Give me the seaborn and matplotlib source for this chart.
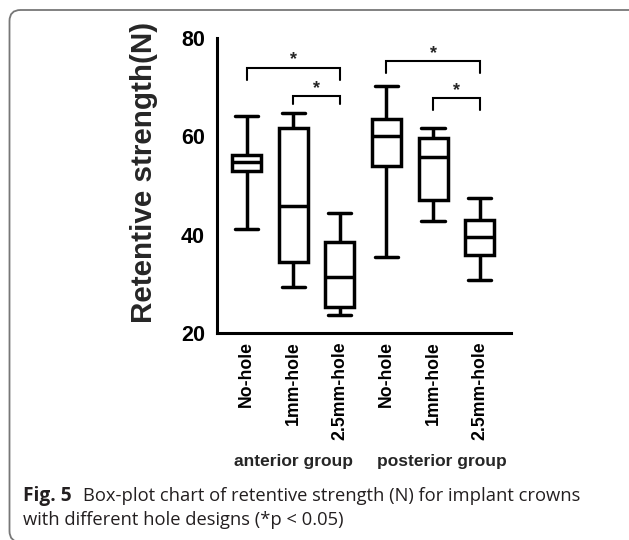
import numpy as np
import pandas as pd
import matplotlib
matplotlib.use("Agg")
import matplotlib.pyplot as plt
import seaborn as sns
from matplotlib.patches import FancyBboxPatch
from matplotlib.transforms import blended_transform_factory

# ---- data ----
groups = ["anterior group"] * 3 + ["posterior group"] * 3
designs = ["No-hole", "1mm-hole", "2.5mm-hole", "No-hole", "1mm-hole", "2.5mm-hole"]
mins = [41.2, 29.3, 23.7, 35.4, 42.7, 30.8]
q1s = [53.0, 34.4, 25.2, 53.9, 47.0, 35.9]
medians = [54.8, 45.8, 31.3, 60.0, 55.8, 39.5]
q3s = [56.3, 61.7, 38.6, 63.6, 59.6, 43.0]
maxs = [64.2, 64.8, 44.4, 70.2, 61.7, 47.4]

sig_pairs = [(0, 2), (1, 2), (3, 5), (4, 5)]
sig_top = [73.8, 68.2, 75.3, 67.7]
sig_foot = [71.4, 66.5, 72.9, 65.3]
sig_star = [76.9, 71.1, 78.2, 70.7]

y_ticks = [20, 40, 60, 80]
group_names = ["anterior group", "posterior group"]
group_centers = [1.0, 4.19]
caption_bold = "Fig. 5"
caption_line1 = "Box-plot chart of retentive strength (N) for implant crowns"
caption_line2 = "with different hole designs (*p < 0.05)"

# ---- build long-form table (5 values -> exact min/q1/median/q3/max) ----
order = [f"{g}|{d}" for g, d in zip(groups, designs)]
rows = []
for i, key in enumerate(order):
    for v in (mins[i], q1s[i], medians[i], q3s[i], maxs[i]):
        rows.append({"box": key, "value": v})
df = pd.DataFrame(rows)

sns.set_style("white")
plt.rcParams["font.family"] = ["Liberation Sans", "DejaVu Sans"]

W, H = 629, 540
fig = plt.figure(figsize=(W / 100, H / 100), dpi=100)
ax = fig.add_axes([216.7 / W, 1 - 333 / H, (511 - 216.7) / W, (333 - 38) / H])

sns.boxplot(data=df, x="box", y="value", order=order, whis=(0, 100),
            width=0.62, color="white", linecolor="black", linewidth=2.5,
            showfliers=False, ax=ax, capwidths=0.5)

ax.set_ylim(20, 80)
ax.set_yticks(y_ticks)
ax.set_xlim(-0.64, 5.67)
for s in ("top", "right"):
    ax.spines[s].set_visible(False)
for s in ("left", "bottom"):
    ax.spines[s].set_linewidth(2.2)
    ax.spines[s].set_color("black")

ax.tick_params(axis="y", direction="out", length=7.5, width=2, pad=1,
               labelsize=15.5, colors="black")
ax.tick_params(axis="x", direction="in", length=7, width=2, pad=6,
               labelsize=12.7, colors="black")
ax.set_xticks(range(len(designs)))
ax.set_xticklabels(designs, rotation=90, fontweight="bold")
for t in ax.get_yticklabels():
    t.set_fontweight("bold")
ax.set_xlabel("")
ax.set_ylabel("Retentive strength(N)", fontsize=21.3, fontweight="bold")
ax.yaxis.set_label_coords(-0.2, 0.544)

# significance brackets
for (a, b), top, foot, star in zip(sig_pairs, sig_top, sig_foot, sig_star):
    ax.plot([a, a, b, b], [foot, top, top, foot], color="black", lw=1.5,
            clip_on=False, solid_joinstyle="miter")
    ax.text((a + b) / 2, star - 2.3, "*", ha="center", va="baseline",
            fontsize=13, fontweight="bold")

# group labels
tr = blended_transform_factory(ax.transData, fig.transFigure)
for name, c in zip(group_names, group_centers):
    ax.text(c, 1 - 461.7 / H, name, transform=tr, ha="center", va="center",
            fontsize=12.5, fontweight="bold")

# frame
frame = FancyBboxPatch((9.5 / 100, -0.02), 6.6, (H - 10) / 100 + 0.02,
                       boxstyle="round,pad=0,rounding_size=0.11",
                       transform=fig.dpi_scale_trans, fill=False,
                       edgecolor="#777777", linewidth=1.3)
fig.patches.append(frame)

# caption
cap_font = ["Open Sans", "DejaVu Sans"]
fig.text(22.7 / W, 1 - 500.7 / H, caption_bold, fontsize=13.8, fontweight="bold",
         family=cap_font, color="#231f20", va="baseline")
fig.text(83.3 / W, 1 - 500.7 / H, caption_line1, fontsize=13.2,
         family=cap_font, color="#231f20", va="baseline")
fig.text(22.7 / W, 1 - 524.7 / H, caption_line2, fontsize=13.2,
         family=cap_font, color="#231f20", va="baseline")

fig.savefig("out.png", dpi=100)
